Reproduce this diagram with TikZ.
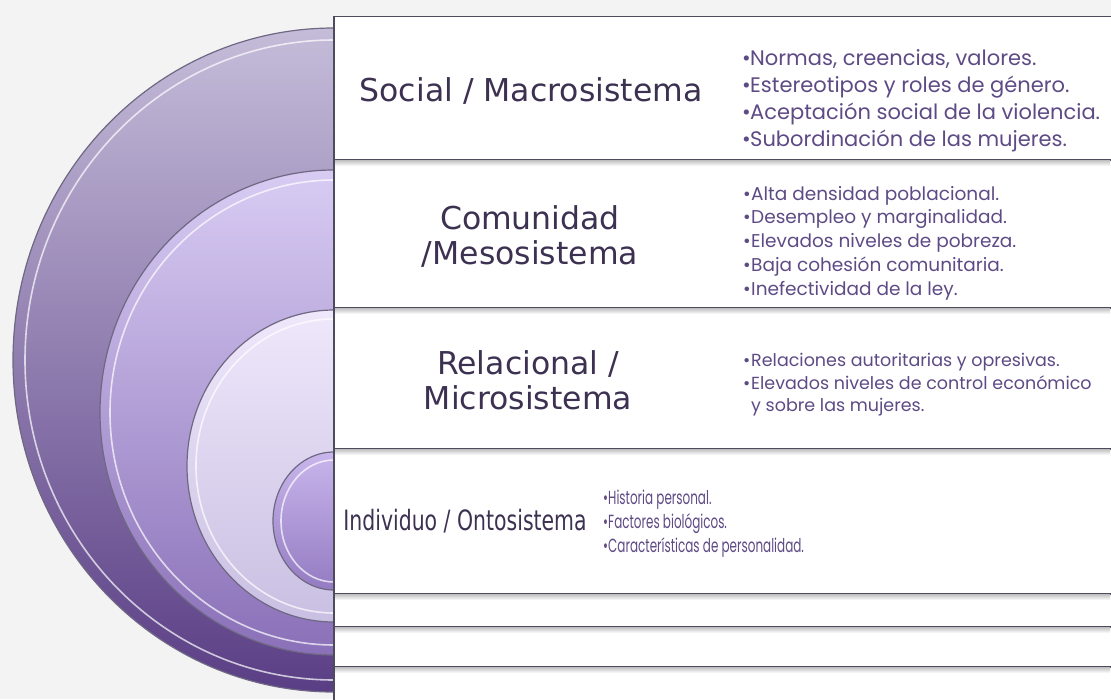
\documentclass[tikz,border=0pt]{standalone}
\usepackage{fontspec}
\usepackage{graphicx}
\setmainfont{DejaVu Sans}
\newfontfamily\listfont{Poppins}
\definecolor{bgcol}{HTML}{F3F3F3}
\definecolor{labelcol}{HTML}{3D3152}
\definecolor{itemcol}{HTML}{5E4B85}
\definecolor{rowline}{HTML}{4F4B5E}
\definecolor{ringline}{HTML}{6E6882}
\definecolor{outertop}{HTML}{C5BCD9}
\definecolor{outerbot}{HTML}{5A3E85}
\definecolor{mesotop}{HTML}{D8CCF3}
\definecolor{mesobot}{HTML}{8A70B8}
\definecolor{microtop}{HTML}{EFE8FB}
\definecolor{microbot}{HTML}{C9BFE2}
\definecolor{ontotop}{HTML}{C9B6EC}
\definecolor{ontobot}{HTML}{947BC2}
\newcommand{\bul}{\makebox[8pt][l]{•}}

\begin{document}
\begin{tikzpicture}[x=1pt, y=-1pt,
  levelname/.style={text=labelcol, font=\fontsize{31.5}{35}\selectfont, align=center, inner sep=0pt},
  factors/.style={text=itemcol, align=left, inner sep=0pt, anchor=west},
  rowbox/.style={draw=rowline, fill=white, line width=1.6pt},
  layer/.style={draw=ringline, line width=1.2pt},
  gloss/.style={draw=white, line width=1.6pt, opacity=0.7}]
  \useasboundingbox (0,0) rectangle (1111,699);
  \fill[bgcol] (0,0) rectangle (1111,699);

  % Draw the nested half rings
  \begin{scope}
    \clip (0,0) rectangle (334,699);
    \shadedraw[layer, top color=outertop, bottom color=outerbot] (334,360) ellipse[x radius=321, y radius=332];
    \draw[gloss] (334,360) ellipse[x radius=309, y radius=320];
    \shadedraw[layer, top color=mesotop, bottom color=mesobot] (334,412.5) ellipse[x radius=234, y radius=242.5];
    \draw[gloss] (334,412.5) ellipse[x radius=224, y radius=232.5];
    \shadedraw[layer, top color=microtop, bottom color=microbot] (334,466) ellipse[x radius=147, y radius=156];
    \draw[gloss] (334,466) ellipse[x radius=138, y radius=147];
    \shadedraw[layer, top color=ontotop, bottom color=ontobot] (334,521) ellipse[x radius=61, y radius=69];
    \draw[gloss] (334,521) ellipse[x radius=53, y radius=61];
  \end{scope}

  % Draw the rows of the table
  \foreach \ya/\yb in {16.5/160, 160/308, 308/449, 449/594, 594/627, 627/667, 667/712}
    \draw[rowbox] (334,\ya) rectangle (1125,\yb);
  \foreach \y in {160, 308, 449, 594, 627, 667}
    \shade[top color=black!22, bottom color=white] (335,\y+0.8) rectangle (1110,\y+6);

  % Level names
  \node[levelname] (social) at (531,91) {Social / Macrosistema};
  \node[levelname] (comunidad) at (530,236) {Comunidad\\/Mesosistema};
  \node[levelname] (relacional) at (528,380) {Relacional /\\Microsistema};
  \node[levelname, font=\fontsize{28}{32}\selectfont] (individuo) at (465,521) {\scalebox{0.73}[1]{Individuo / Ontosistema}};

  % Factors of each level
  \node[factors, font=\listfont\fontsize{21}{27}\selectfont] (macro) at (742,101)
    {\bul Normas, creencias, valores.\\\bul Estereotipos y roles de género.\\\bul Aceptación social de la violencia.\\\bul Subordinación de las mujeres.};
  \node[factors, font=\listfont\fontsize{18.5}{23.75}\selectfont] (meso) at (743,243)
    {\bul Alta densidad poblacional.\\\bul Desempleo y marginalidad.\\\bul Elevados niveles de pobreza.\\\bul Baja cohesión comunitaria.\\\bul Inefectividad de la ley.};
  \node[factors, font=\listfont\fontsize{17.5}{22.5}\selectfont] (micro) at (743,385)
    {\bul Relaciones autoritarias y opresivas.\\\bul Elevados niveles de control económico\\\hspace{8pt}y sobre las mujeres.};
  \node[factors, font=\listfont\fontsize{19}{24}\selectfont] (onto) at (603,524)
    {\scalebox{0.63}[1]{\begin{tabular}{@{}l@{}}\bul Historia personal.\\\bul Factores biológicos.\\\bul Características de personalidad.\end{tabular}}};
\end{tikzpicture}
\end{document}
